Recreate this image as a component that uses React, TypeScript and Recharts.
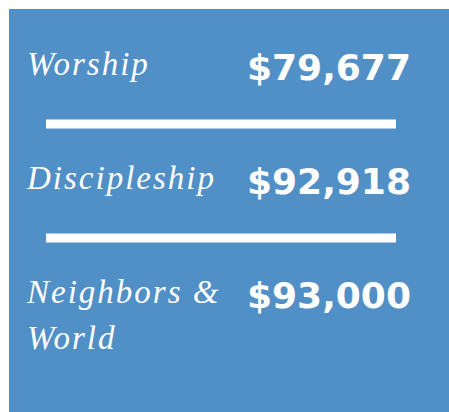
import { BarChart, Bar, XAxis, YAxis, LabelList, ReferenceLine } from 'recharts';

const categories = ['Worship', 'Discipleship', 'Neighbors & World'];
const amounts = [79677, 92918, 93000];
// how each category label breaks into lines
const labelLines = [['Worship'], ['Discipleship'], ['Neighbors &', 'World']];

const data = categories.map((name, i) => ({ name, amount: amounts[i], lines: labelLines[i] }));

const BLUE = '#5190c6';

function CategoryTick({ y, payload }: any) {
  const row = data.find((d) => d.name === payload.value);
  const lines = row ? row.lines : [payload.value];
  return (
    <text
      x={18}
      y={y + 8}
      fill="#fff"
      style={{ fontFamily: '"Liberation Serif", serif', fontStyle: 'italic', fontSize: 33, letterSpacing: 2 }}
      textAnchor="start"
    >
      {lines.map((l: string, i: number) => (
        <tspan key={i} x={18} dy={i === 0 ? 0 : 46}>
          {l}
        </tspan>
      ))}
    </text>
  );
}

function AmountLabel({ y, height, value }: any) {
  return (
    <text
      x={238}
      y={y + height / 2 + 13}
      fill="#fff"
      style={{ fontFamily: '"DejaVu Sans", sans-serif', fontWeight: 'bold', fontSize: 36 }}
      textAnchor="start"
    >
      {`$${Number(value).toLocaleString('en-US')}`}
    </text>
  );
}

export default function App() {
  return (
    <div style={{ position: 'absolute', left: 9, top: 9, width: 440, height: 403, background: BLUE }}>
      <BarChart
        width={440}
        height={403}
        data={data}
        layout="vertical"
        barCategoryGap={0}
        margin={{ top: 1, right: 53, bottom: 60, left: 0 }}
      >
        <XAxis type="number" hide domain={[0, 100000]} />
        <YAxis
          type="category"
          dataKey="name"
          width={37}
          axisLine={false}
          tickLine={false}
          tick={<CategoryTick />}
          interval={0}
        />
        {categories.slice(0, -1).map((c) => (
          <ReferenceLine key={c} y={c} position="end" stroke="#fff" strokeWidth={9} />
        ))}
        <Bar dataKey="amount" fill="transparent" isAnimationActive={false}>
          <LabelList dataKey="amount" content={<AmountLabel />} />
        </Bar>
      </BarChart>
    </div>
  );
}
